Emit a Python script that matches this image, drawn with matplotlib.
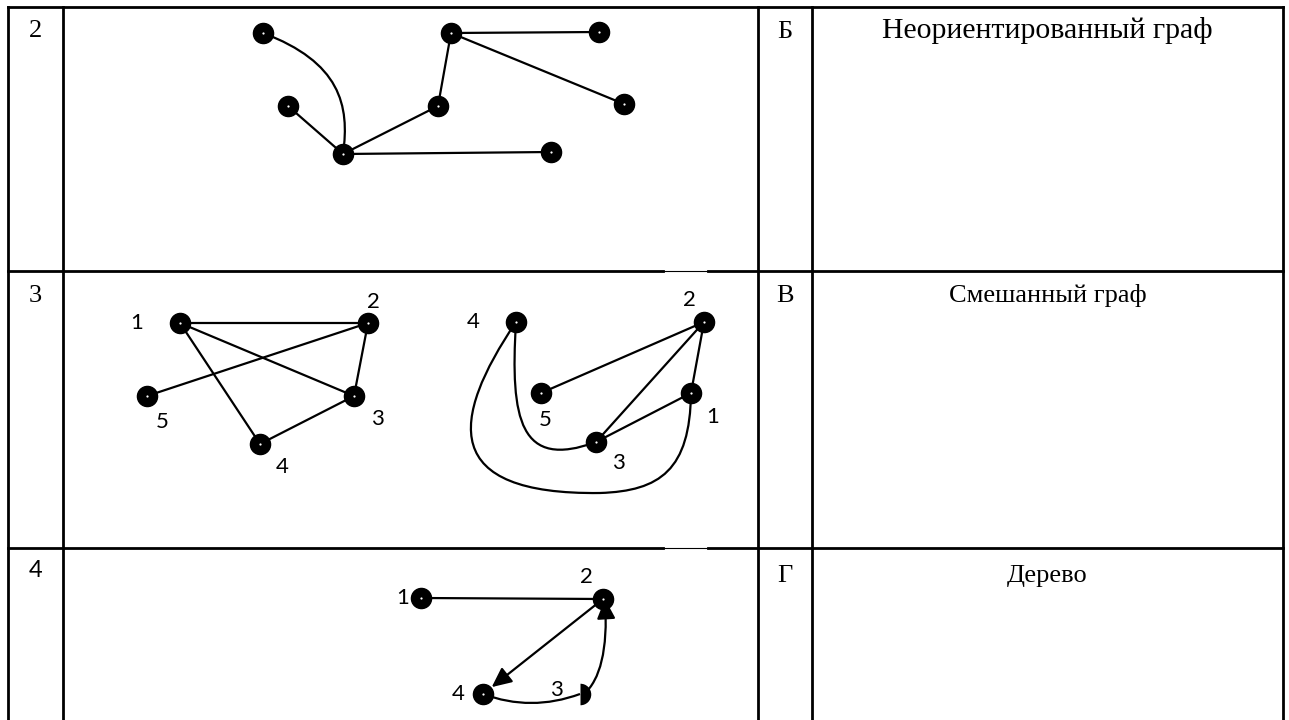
import numpy as np
import matplotlib.pyplot as plt
from matplotlib.path import Path
from matplotlib.patches import PathPatch, FancyArrowPatch

# --- table layout (pixels) ---
col_x = [8, 63, 758, 812, 1283]
row_y = [7, 271, 548]
row_nums = ['2', '3', '4']
row_letters = ['Б', 'В', 'Г']
row_names = ['Неориентированный граф', 'Смешанный граф', 'Дерево']
num_base = [37, 302, 577]
text_base = [38, 302, 582]
name_size = [21.5, 19, 19]

# --- row 2: undirected graph ---
g2_x = [263, 288, 343, 438, 451, 599, 624, 551]
g2_y = [33, 106, 154, 106, 33, 32, 104, 152]
g2_edges = [(1, 2), (2, 3), (3, 4), (4, 5), (4, 6), (2, 7)]
g2_curve = [(263, 33), (340, 62), (350, 105), (343, 154)]

# --- row 3: two drawings of the same graph ---
g3a_x = [180, 368, 354, 260, 147]
g3a_y = [323, 323, 396, 444, 396]
g3a_lab = [(137, 323), (373, 302), (377, 419), (282, 467), (162, 422)]
g3a_edges = [(0, 1), (0, 2), (0, 3), (1, 4), (1, 2), (2, 3)]

g3b_x = [691, 704, 596, 516, 541]
g3b_y = [393, 322, 442, 322, 393]
g3b_lab = [(713, 417), (689, 300), (618, 463), (473, 322), (545, 420)]
g3b_edges = [(1, 4), (1, 2), (1, 0), (0, 2)]
g3b_curve43 = [(516, 322), (510, 420), (520, 470), (596, 442)]
g3b_curve41 = [(516, 322), (450, 420), (440, 495), (600, 493),
               (660, 491), (690, 470), (691, 393)]

# --- row 4: mixed graph ---
g4_x = [421, 603, 580, 483]
g4_y = [598, 599, 694, 694]
g4_lab = [(403, 598), (586, 577), (556, 690), (458, 694)]
g4_curve43 = [(483, 694), (531, 712), (580, 694)]
g4_curve32 = [(584, 694), (600, 680), (608, 650), (605, 599)]

serif = ['Liberation Serif', 'DejaVu Serif']
sans = ['Lato', 'DejaVu Sans']
lw_edge = 1.6
node_ms = 14.5

fig = plt.figure(figsize=(12.89, 7.2), dpi=100)
ax = fig.add_axes([0, 0, 1, 1])
ax.set_xlim(0, 1289)
ax.set_ylim(720, 0)
ax.axis('off')

# table grid
for x in col_x:
    ax.plot([x, x], [row_y[0], 720], color='black', lw=2, solid_capstyle='projecting')
ax.plot([col_x[0], col_x[-1]], [row_y[0], row_y[0]], color='black', lw=2, solid_capstyle='projecting')
for y in row_y[1:]:
    ax.plot([col_x[0], 663], [y, y], color='black', lw=2)
    ax.plot([663, 708], [y, y], color='black', lw=0.8)
    ax.plot([708, col_x[-1]], [y, y], color='black', lw=2)

for i in range(3):
    fam = sans if row_nums[i] == '4' else serif
    ax.text((col_x[0] + col_x[1]) / 2, num_base[i], row_nums[i], family=fam,
            fontsize=19 if fam is serif else 17, ha='center', va='baseline')
    ax.text((col_x[2] + col_x[3]) / 2, text_base[i], row_letters[i], family=serif,
            fontsize=19, ha='center', va='baseline')
    ax.text((col_x[3] + col_x[4]) / 2, text_base[i], row_names[i], family=serif,
            fontsize=name_size[i], ha='center', va='baseline')


def draw_nodes(xs, ys):
    ax.plot(xs, ys, 'o', color='black', ms=node_ms, zorder=5)
    ax.plot(xs, ys, 'o', color='white', ms=1.6, mew=0, zorder=6)


def draw_edges(xs, ys, edges):
    for a, b in edges:
        ax.plot([xs[a], xs[b]], [ys[a], ys[b]], color='black', lw=lw_edge, zorder=2)


def bezier(pts):
    codes = [Path.MOVETO]
    n = len(pts) - 1
    if n == 2:
        codes += [Path.CURVE3] * 2
    else:
        codes += [Path.CURVE4] * n
    return Path(pts, codes)


def curve(pts):
    ax.add_patch(PathPatch(bezier(pts), fc='none', ec='black', lw=lw_edge, zorder=2))


def labels(lab, names):
    for (x, y), s in zip(lab, names):
        ax.text(x, y, s, family=sans, fontsize=16, ha='center', va='center')


# row 2
draw_edges(g2_x, g2_y, g2_edges)
curve(g2_curve)
draw_nodes(g2_x, g2_y)

# row 3 left
draw_edges(g3a_x, g3a_y, g3a_edges)
draw_nodes(g3a_x, g3a_y)
labels(g3a_lab, ['1', '2', '3', '4', '5'])

# row 3 right
draw_edges(g3b_x, g3b_y, g3b_edges)
curve(g3b_curve43)
curve(g3b_curve41)
draw_nodes(g3b_x, g3b_y)
labels(g3b_lab, ['1', '2', '3', '4', '5'])

# row 4
ax.plot([g4_x[0], g4_x[1]], [g4_y[0], g4_y[1]], color='black', lw=lw_edge, zorder=2)
ax.add_patch(FancyArrowPatch((g4_x[1], g4_y[1]), (g4_x[3], g4_y[3]),
                             arrowstyle='-|>,head_length=0.6,head_width=0.28',
                             mutation_scale=20, shrinkA=0, shrinkB=8,
                             color='black', lw=lw_edge, zorder=3))
curve(g4_curve43)
ax.add_patch(FancyArrowPatch(path=bezier(g4_curve32),
                             arrowstyle='-|>,head_length=0.6,head_width=0.28',
                             mutation_scale=20, color='black', lw=lw_edge, zorder=3))
draw_nodes(g4_x[:2] + g4_x[3:], g4_y[:2] + g4_y[3:])
ax.plot(g4_x[2], g4_y[2], 'o', color='black', ms=15.5, mew=0,
        fillstyle='right', markerfacecoloralt='none', zorder=5)
labels(g4_lab, ['1', '2', '3', '4'])

fig.savefig('out.png', dpi=100)
